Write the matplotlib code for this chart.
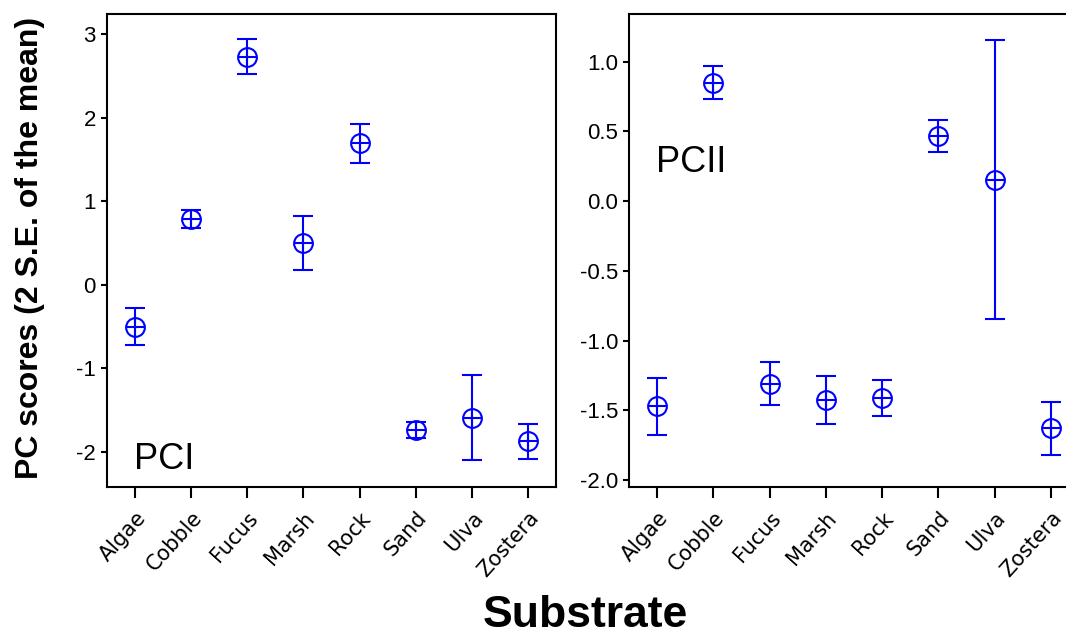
import matplotlib
matplotlib.use('Agg')
import matplotlib.pyplot as plt

plt.rcParams['font.family'] = ['Liberation Sans', 'DejaVu Sans']
plt.rcParams['axes.unicode_minus'] = False

# mean PC scores per substrate, error = 2 S.E.
substrates = ['Algae', 'Cobble', 'Fucus', 'Marsh', 'Rock', 'Sand', 'Ulva', 'Zostera']
pc1_mean = [-0.50, 0.79, 2.73, 0.50, 1.695, -1.735, -1.59, -1.87]
pc1_err = [0.225, 0.11, 0.21, 0.32, 0.235, 0.095, 0.51, 0.21]
pc2_mean = [-1.47, 0.85, -1.31, -1.425, -1.41, 0.465, 0.155, -1.63]
pc2_err = [0.205, 0.12, 0.155, 0.17, 0.13, 0.115, 1.00, 0.19]

pc1_ticks = [-2, -1, 0, 1, 2, 3]
pc2_ticks = [-2.0, -1.5, -1.0, -0.5, 0.0, 0.5, 1.0]

BLUE = '#0000ff'


def drawPanel(ax, means, errs, ticks, fmt, ylim, label, labelPos):
    x = list(range(1, len(substrates) + 1))
    ax.errorbar(x, means, yerr=errs, fmt='none', ecolor=BLUE,
                elinewidth=1.5, capsize=7, capthick=1.5)
    ax.plot(x, means, 'o', ms=13.5, mfc='none', mec=BLUE, mew=1.5)
    ax.plot(x, means, '+', ms=13.5, mec=BLUE, mew=1.5)

    ax.set_xlim(0.5, 8.5)
    ax.set_ylim(*ylim)
    ax.set_xticks(x)
    ax.set_xticklabels(substrates, rotation=48, ha='right', rotation_mode='anchor',
                       fontsize=15, family='DejaVu Sans')
    ax.set_yticks(ticks)
    ax.set_yticklabels([fmt % t for t in ticks], fontsize=16)
    ax.tick_params(axis='x', direction='out', length=8, width=1.5, pad=7)
    ax.tick_params(axis='y', direction='out', length=4, width=1.5, pad=4)
    for s in ax.spines.values():
        s.set_linewidth(1.5)
    ax.text(labelPos[0], labelPos[1], label, fontsize=26, ha='left', va='baseline')


fig = plt.figure(figsize=(10.66, 6.35), dpi=100)

ax1 = fig.add_axes([107 / 1066, 148 / 635, 449 / 1066, 473 / 635])
drawPanel(ax1, pc1_mean, pc1_err, pc1_ticks, '%d', (-2.419, 3.243), 'PCI', (0.98, -2.2))

# second panel runs off the right edge of the figure
ax2 = fig.add_axes([629 / 1066, 148 / 635, 450 / 1066, 473 / 635])
drawPanel(ax2, pc2_mean, pc2_err, pc2_ticks, '%.1f', (-2.05, 1.342), 'PCII', (0.98, 0.208))

fig.text(30 / 1066, 1 - 248 / 635, 'PC scores (2 S.E. of the mean)', rotation=90,
         ha='center', va='center', fontsize=23, fontweight='bold')
fig.text(585 / 1066, 1 - 627 / 635, 'Substrate', ha='center', va='baseline',
         fontsize=32, fontweight='bold')

fig.savefig('out.png', dpi=100)
